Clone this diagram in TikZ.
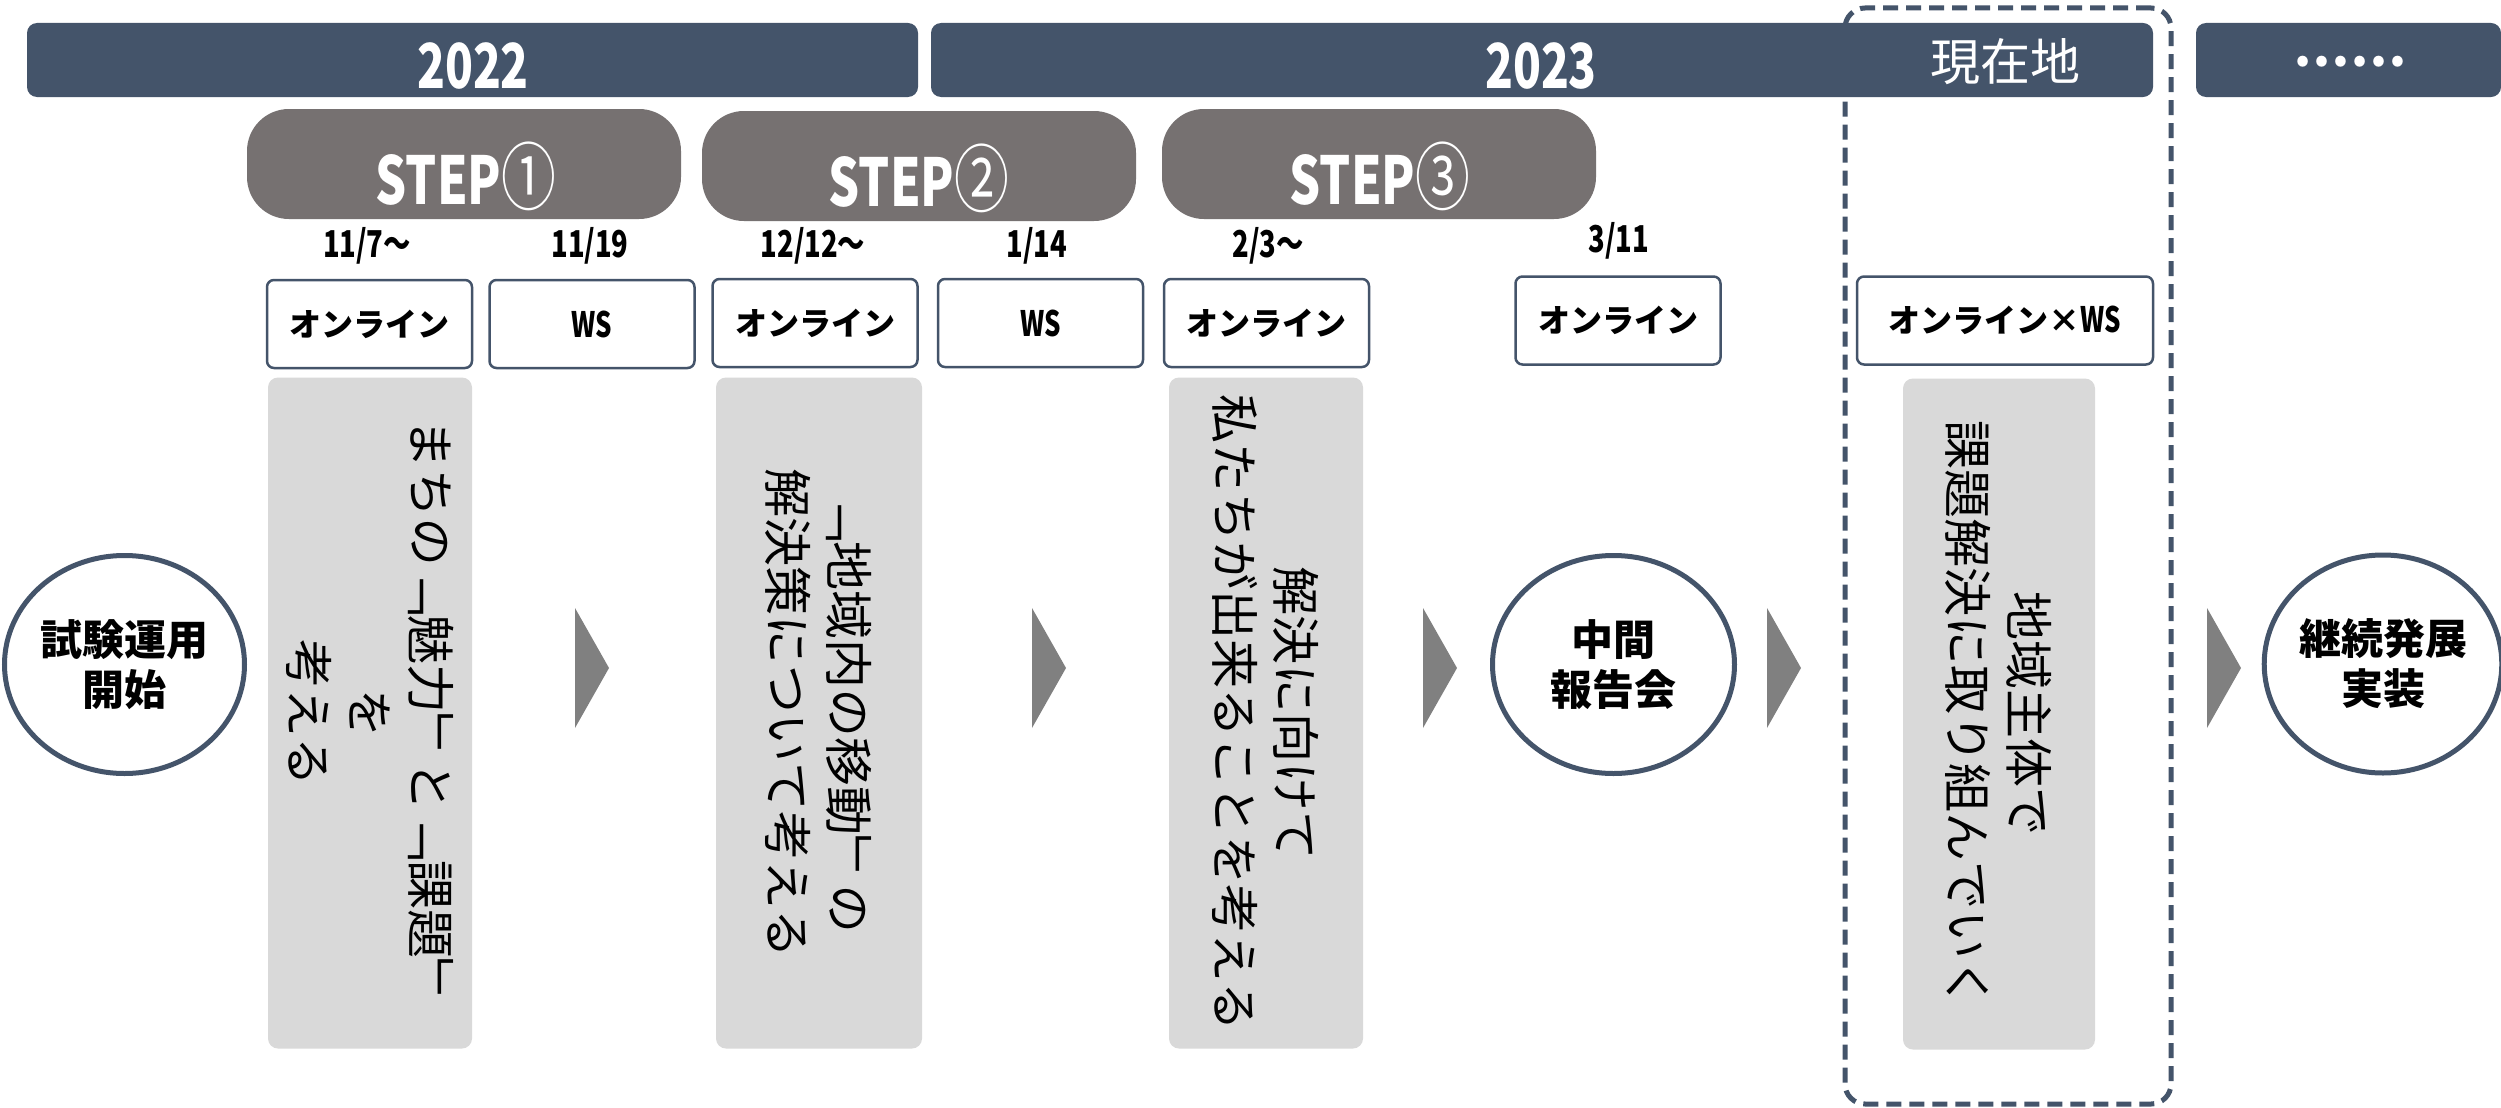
\documentclass[tikz,border=0pt]{standalone}
\usepackage{fontspec}
\setmainfont{Noto Sans CJK JP}
\newfontfamily\jp{Noto Sans CJK JP}
\newfontfamily\cnd[FakeStretch=0.74]{Noto Sans CJK JP}
\newfontfamily\tate[Vertical=RotatedGlyphs]{Noto Sans CJK JP}
\usetikzlibrary{shapes.geometric}
\definecolor{navy}{HTML}{44546A}
\definecolor{stepgray}{HTML}{767171}
\definecolor{boxgray}{HTML}{D9D9D9}
\definecolor{trigray}{HTML}{808080}
\newcommand{\circnum}[1]{{\mdseries\fontsize{74}{72}\selectfont #1}}
\newcommand{\wsmark}{{\cnd\bfseries\fontsize{35}{36}\selectfont WS}}
\begin{document}
\begin{tikzpicture}[x=1pt,y=-1pt,
 bar/.style={fill=navy, rounded corners=10pt, minimum height=74pt, inner sep=0pt},
 bartext/.style={text=white, inner sep=0pt, font=\cnd\bfseries\fontsize{62}{66}\selectfont},
 jptext/.style={text=white, inner sep=0pt, font=\jp\fontsize{50}{55}\selectfont},
 stepbox/.style={fill=stepgray, rounded corners=42pt, minimum width=434pt, minimum height=110pt, inner sep=0pt},
 steptext/.style={text=white, inner sep=0pt, font=\cnd\bfseries\fontsize{66}{72}\selectfont},
 datetext/.style={inner sep=0pt, font=\cnd\bfseries\fontsize{37}{40}\selectfont},
 modebox/.style={draw=navy, line width=2.5pt, fill=white, rounded corners=7pt, minimum height=88pt, minimum width=205pt, inner sep=0pt, font=\jp\bfseries\fontsize{32}{36}\selectfont},
 graybox/.style={fill=boxgray, rounded corners=10pt, minimum height=671pt, inner sep=0pt},
 tatetext/.style={rotate=-90, align=center, inner sep=0pt, font=\tate\fontsize{49}{61}\selectfont},
 milestone/.style={ellipse, draw=navy, line width=5pt, fill=white, minimum width=240pt, minimum height=218pt, inner sep=0pt, align=center, font=\jp\bfseries\fontsize{42}{50}\selectfont},
 nowframe/.style={draw=navy, line width=5pt, dash pattern=on 15pt off 8pt, rounded corners=20pt, minimum width=326pt, minimum height=1096pt, inner sep=0pt},
 chevron/.style={fill=trigray}
]
\useasboundingbox (0,0) rectangle (2501,1108);
\fill[white] (0,0) rectangle (2501,1108);

% current-position frame
\node[nowframe] (now) at (2008,556) {};

% year bars
\node[bar, minimum width=891pt] (b22) at (472.5,60) {};
\node[bar, minimum width=1222pt] (b23) at (1542,60) {};
\node[bar, minimum width=305pt] (bdots) at (2348.5,60) {};
\node[bartext] (t22) at (473,66) {2022};
\node[bartext] (t23) at (1541,66) {2023};
\node[jptext] (tnow) at (2005,62) {現在地};
\node[jptext, font=\jp\bfseries\fontsize{50}{55}\selectfont] (tdots) at (2350,62) {……};

% steps
\node[stepbox] (s1) at (464,164) {};
\node[stepbox] (s2) at (919,166) {};
\node[stepbox] (s3) at (1379,164) {};
\node[steptext] (st1) at (466,176) {STEP\circnum{①}};
\node[steptext] (st2) at (919,178) {STEP\circnum{②}};
\node[steptext] (st3) at (1380,176) {STEP\circnum{③}};

% mode boxes
\node[modebox] (m1) at (369.5,324) {オンライン};
\node[modebox] (m2) at (592,324) {\wsmark};
\node[modebox] (m3) at (815,323) {オンライン};
\node[modebox] (m4) at (1040.5,323) {\wsmark};
\node[modebox] (m5) at (1266.5,323) {オンライン};
\node[modebox] (m6) at (1618,320.5) {オンライン};
\node[modebox, minimum width=296pt] (m7) at (2005,320.5) {オンライン×\wsmark};

% dates
\node[datetext] (d1) at (367,246) {11/7～};
\node[datetext] (d2) at (590,246) {11/19};
\node[datetext] (d3) at (813,246) {12/12～};
\node[datetext] (d4) at (1037,246) {1/14};
\node[datetext] (d5) at (1268,246) {2/3～};
\node[datetext] (d6) at (1619,241) {3/11};

% gray content boxes
\node[graybox, minimum width=204pt] (g1) at (370,713) {};
\node[graybox, minimum width=206pt] (g2) at (819,713) {};
\node[graybox, minimum width=194pt] (g3) at (1266,713) {};
\node[graybox, minimum width=192pt] (g4) at (1999,714) {};
\node[tatetext] (v1) at (g1.center) {まちの「魅力」と「課題」\\を\\考える};
\node[tatetext] (v2) at (g2.center) {「地域内の移動」の\\解決策について考える};
\node[tatetext] (v3) at (g3.center) {解決に向けて\\私たちが出来ることを考える};
\node[tatetext] (v4) at (g4.center) {地域主体で\\課題解決に取り組んでいく};

% milestones
\node[milestone] (e1) at (124.5,664.5) {試験運用\\開始};
\node[milestone, minimum width=242pt] (e2) at (1613.5,664.5) {中間\\報告会};
\node[milestone, minimum width=230pt] (e3) at (2383,664) {継続発展\\実装};

% chevrons
\foreach \x in {575,1032,1423,1767,2207}
  \fill[chevron] (\x,608) -- (\x+34,668) -- (\x,728) -- cycle;
\end{tikzpicture}
\end{document}
